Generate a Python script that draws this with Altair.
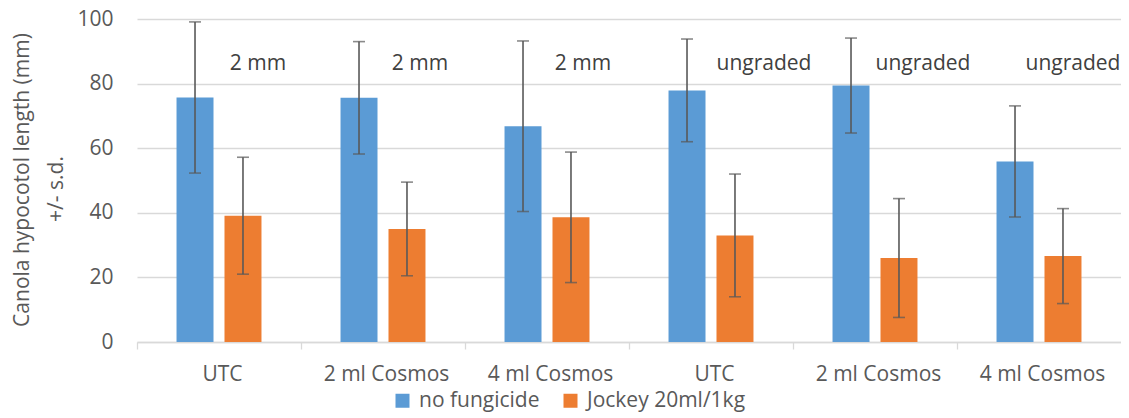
import altair as alt
import pandas as pd

treatments = ["UTC", "2 ml Cosmos", "4 ml Cosmos", "UTC", "2 ml Cosmos", "4 ml Cosmos"]
grades = ["2 mm", "2 mm", "2 mm", "ungraded", "ungraded", "ungraded"]
series = ["no fungicide", "Jockey 20ml/1kg"]
no_fungicide = [75.7, 75.6, 66.8, 77.9, 79.4, 55.9]
no_fungicide_sd = [23.4, 17.4, 26.4, 15.9, 14.7, 17.2]
jockey = [39.1, 35.0, 38.6, 33.0, 26.0, 26.6]
jockey_sd = [18.1, 14.5, 20.2, 19.0, 18.4, 14.7]
y_title_lines = ["Canola hypocotol length (mm)", "+/- s.d."]

keys = [f"{g}|{t}" for g, t in zip(grades, treatments)]
rows = []
for k, m1, s1, m2, s2 in zip(keys, no_fungicide, no_fungicide_sd, jockey, jockey_sd):
    rows.append({"key": k, "series": series[0], "mean": m1, "lo": m1 - s1, "hi": m1 + s1})
    rows.append({"key": k, "series": series[1], "mean": m2, "lo": m2 - s2, "hi": m2 + s2})
df = pd.DataFrame(rows)
ann = pd.DataFrame({"key": keys, "label": grades})

GREY = "#595959"
FONT = "Open Sans"

x_enc = alt.X(
    "key:N", sort=keys,
    scale=alt.Scale(paddingInner=0.482, paddingOuter=0.241),
    axis=alt.Axis(
        title=None, labelAngle=0, labelExpr="split(datum.value, '|')[1]",
        labelFontSize=21, labelColor=GREY, labelPadding=14,
        domainColor="#D9D9D9", domainWidth=1.3,
        tickColor="#D9D9D9", tickWidth=1.3, tickSize=7,
        bandPosition=0, tickOffset=-39.5, labelOffset=42.5,
    ),
)
xo_enc = alt.XOffset("series:N", sort=series, scale=alt.Scale(paddingInner=0.229, paddingOuter=0))
y_scale = alt.Scale(domain=[0, 100], nice=False)

base = alt.Chart(df).encode(x=x_enc, xOffset=xo_enc)

bars = base.mark_bar().encode(
    y=alt.Y(
        "mean:Q", scale=y_scale,
        axis=alt.Axis(
            values=[0, 20, 40, 60, 80, 100], grid=True, gridColor="#D9D9D9", gridWidth=1.3,
            domain=False, ticks=False, labelPadding=24, labelFontSize=21, labelColor=GREY,
            title=None,
        ),
    ),
    color=alt.Color(
        "series:N", sort=series,
        scale=alt.Scale(domain=series, range=["#5B9BD5", "#ED7D31"]),
        legend=alt.Legend(
            title=None, orient="none", direction="horizontal", legendX=255, legendY=371,
            symbolType="square", symbolSize=196, symbolStrokeWidth=0,
            labelFontSize=21, labelColor=GREY, labelOffset=6, columnPadding=20,
        ),
    ),
)

rules = base.mark_rule(color=GREY, strokeWidth=1.6).encode(
    y=alt.Y("lo:Q", scale=y_scale), y2="hi:Q"
)
cap_hi = base.mark_tick(color=GREY, thickness=1.6, size=12, orient="horizontal").encode(
    y=alt.Y("hi:Q", scale=y_scale)
)
cap_lo = base.mark_tick(color=GREY, thickness=1.6, size=12, orient="horizontal").encode(
    y=alt.Y("lo:Q", scale=y_scale)
)

# annotation text boxes: horizontal shift from each category centre (layout only)
ann_shift = {0: 39, 1: 37, 2: 36, 3: 53, 4: 48, 5: 34}
ann_layers = []
for i, k in enumerate(keys):
    ann_layers.append(
        alt.Chart(ann).transform_filter(alt.FieldEqualPredicate(field="key", equal=k))
        .mark_text(fontSize=21, color="#404040", dx=ann_shift[i], baseline="middle")
        .encode(x=alt.X("key:N", sort=keys), y=alt.datum(86), text="label:N")
    )

title_df = pd.DataFrame({"t": y_title_lines})
title1 = alt.Chart(title_df).transform_filter(
    alt.FieldEqualPredicate(field="t", equal=y_title_lines[0])
).mark_text(
    fontSize=21, color=GREY, angle=270, baseline="middle", align="center"
).encode(text="t:N", x=alt.value(-114), y=alt.value(161))
title2 = alt.Chart(title_df).transform_filter(
    alt.FieldEqualPredicate(field="t", equal=y_title_lines[1])
).mark_text(
    fontSize=21, color=GREY, angle=270, baseline="middle", align="center"
).encode(text="t:N", x=alt.value(-80), y=alt.value(170))

chart = alt.layer(bars, rules, cap_hi, cap_lo, *ann_layers, title1, title2).properties(
    width=984, height=323,
    autosize=alt.AutoSizeParams(type="none"),
    padding={"left": 129, "top": 11, "right": 0, "bottom": 76},
).configure(font=FONT).configure_view(stroke=None)

chart.save("out.html", embed_options={"renderer": "svg", "actions": False})
